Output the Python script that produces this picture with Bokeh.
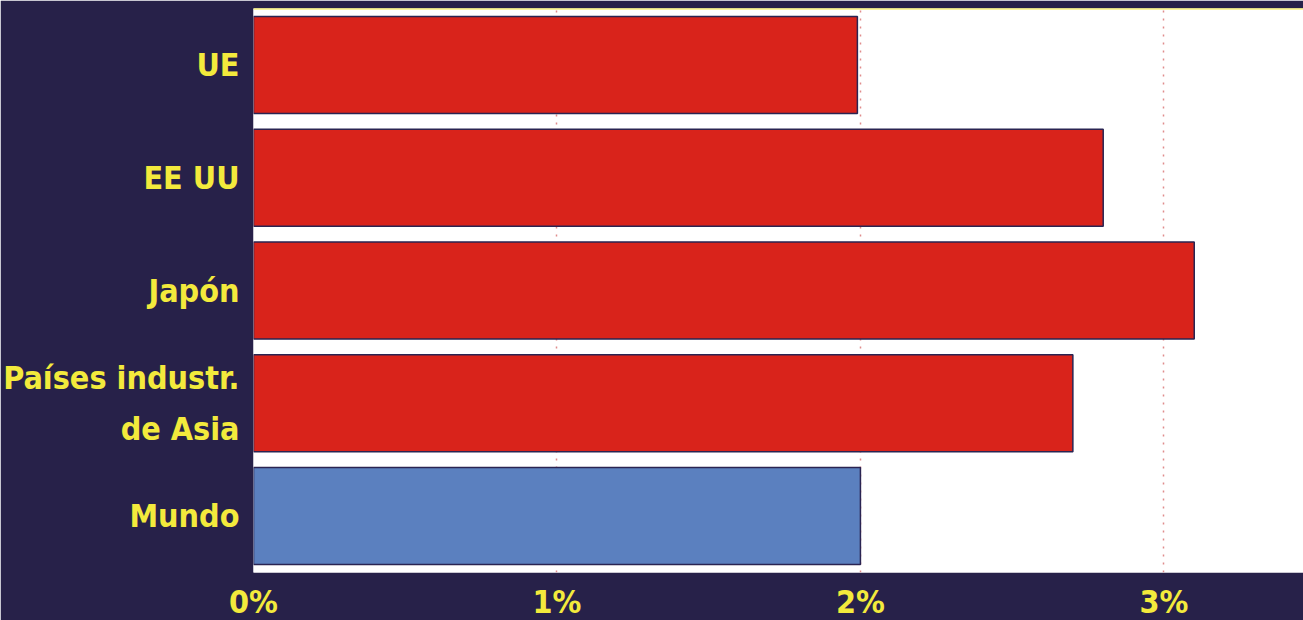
from bokeh.plotting import figure
from bokeh.models import Range1d, FactorRange, FixedTicker, CustomJSTickFormatter, Span
from bokeh.embed import file_html
from bokeh.resources import INLINE

categories = ["UE", "EE UU", "Japón", "Países industr.\nde Asia", "Mundo"]
values = [1.99, 2.80, 3.10, 2.70, 2.00]
bar_colors = ["#d9231b", "#d9231b", "#d9231b", "#d9231b", "#5b80bf"]
x_ticks = [0, 1, 2, 3]

BG = "#272149"
YELLOW = "#f3ea3c"
FONT = "'DejaVu Sans Condensed', 'Roboto', sans-serif"

p = figure(
    y_range=FactorRange(factors=list(reversed(categories)), range_padding=0),
    x_range=Range1d(0, 3.46),
    frame_width=1050, frame_height=564,
    min_border_left=253, min_border_right=0, min_border_top=8, min_border_bottom=48,
    output_backend="svg", toolbar_location=None,
    background_fill_color="white", border_fill_color=BG,
)
p.outline_line_color = None

p.hbar(y=categories, right=values, left=0, height=0.86,
       fill_color=bar_colors, line_color="#2a2452", line_width=1.5)

p.add_layout(Span(location=5, dimension="width", line_color=YELLOW, line_width=2))

p.xaxis.ticker = FixedTicker(ticks=x_ticks)
p.xaxis.formatter = CustomJSTickFormatter(code="return tick + '%';")
p.xgrid.ticker = FixedTicker(ticks=x_ticks[1:])
p.xgrid.grid_line_color = "#e08c8c"
p.xgrid.grid_line_dash = "2 6"
p.xgrid.grid_line_width = 1.5
p.ygrid.grid_line_color = None

for ax in (p.xaxis, p.yaxis):
    ax.axis_line_color = None
    ax.major_tick_line_color = None
    ax.minor_tick_line_color = None
    ax.major_label_text_color = YELLOW
    ax.major_label_text_font = FONT
    ax.major_label_text_font_style = "bold"
    ax.major_label_text_font_size = "32px"

p.xaxis.major_label_standoff = 4
p.yaxis.major_label_standoff = 8
p.yaxis.major_label_text_line_height = 1.35

open("out.html", "w").write(file_html(p, INLINE))
